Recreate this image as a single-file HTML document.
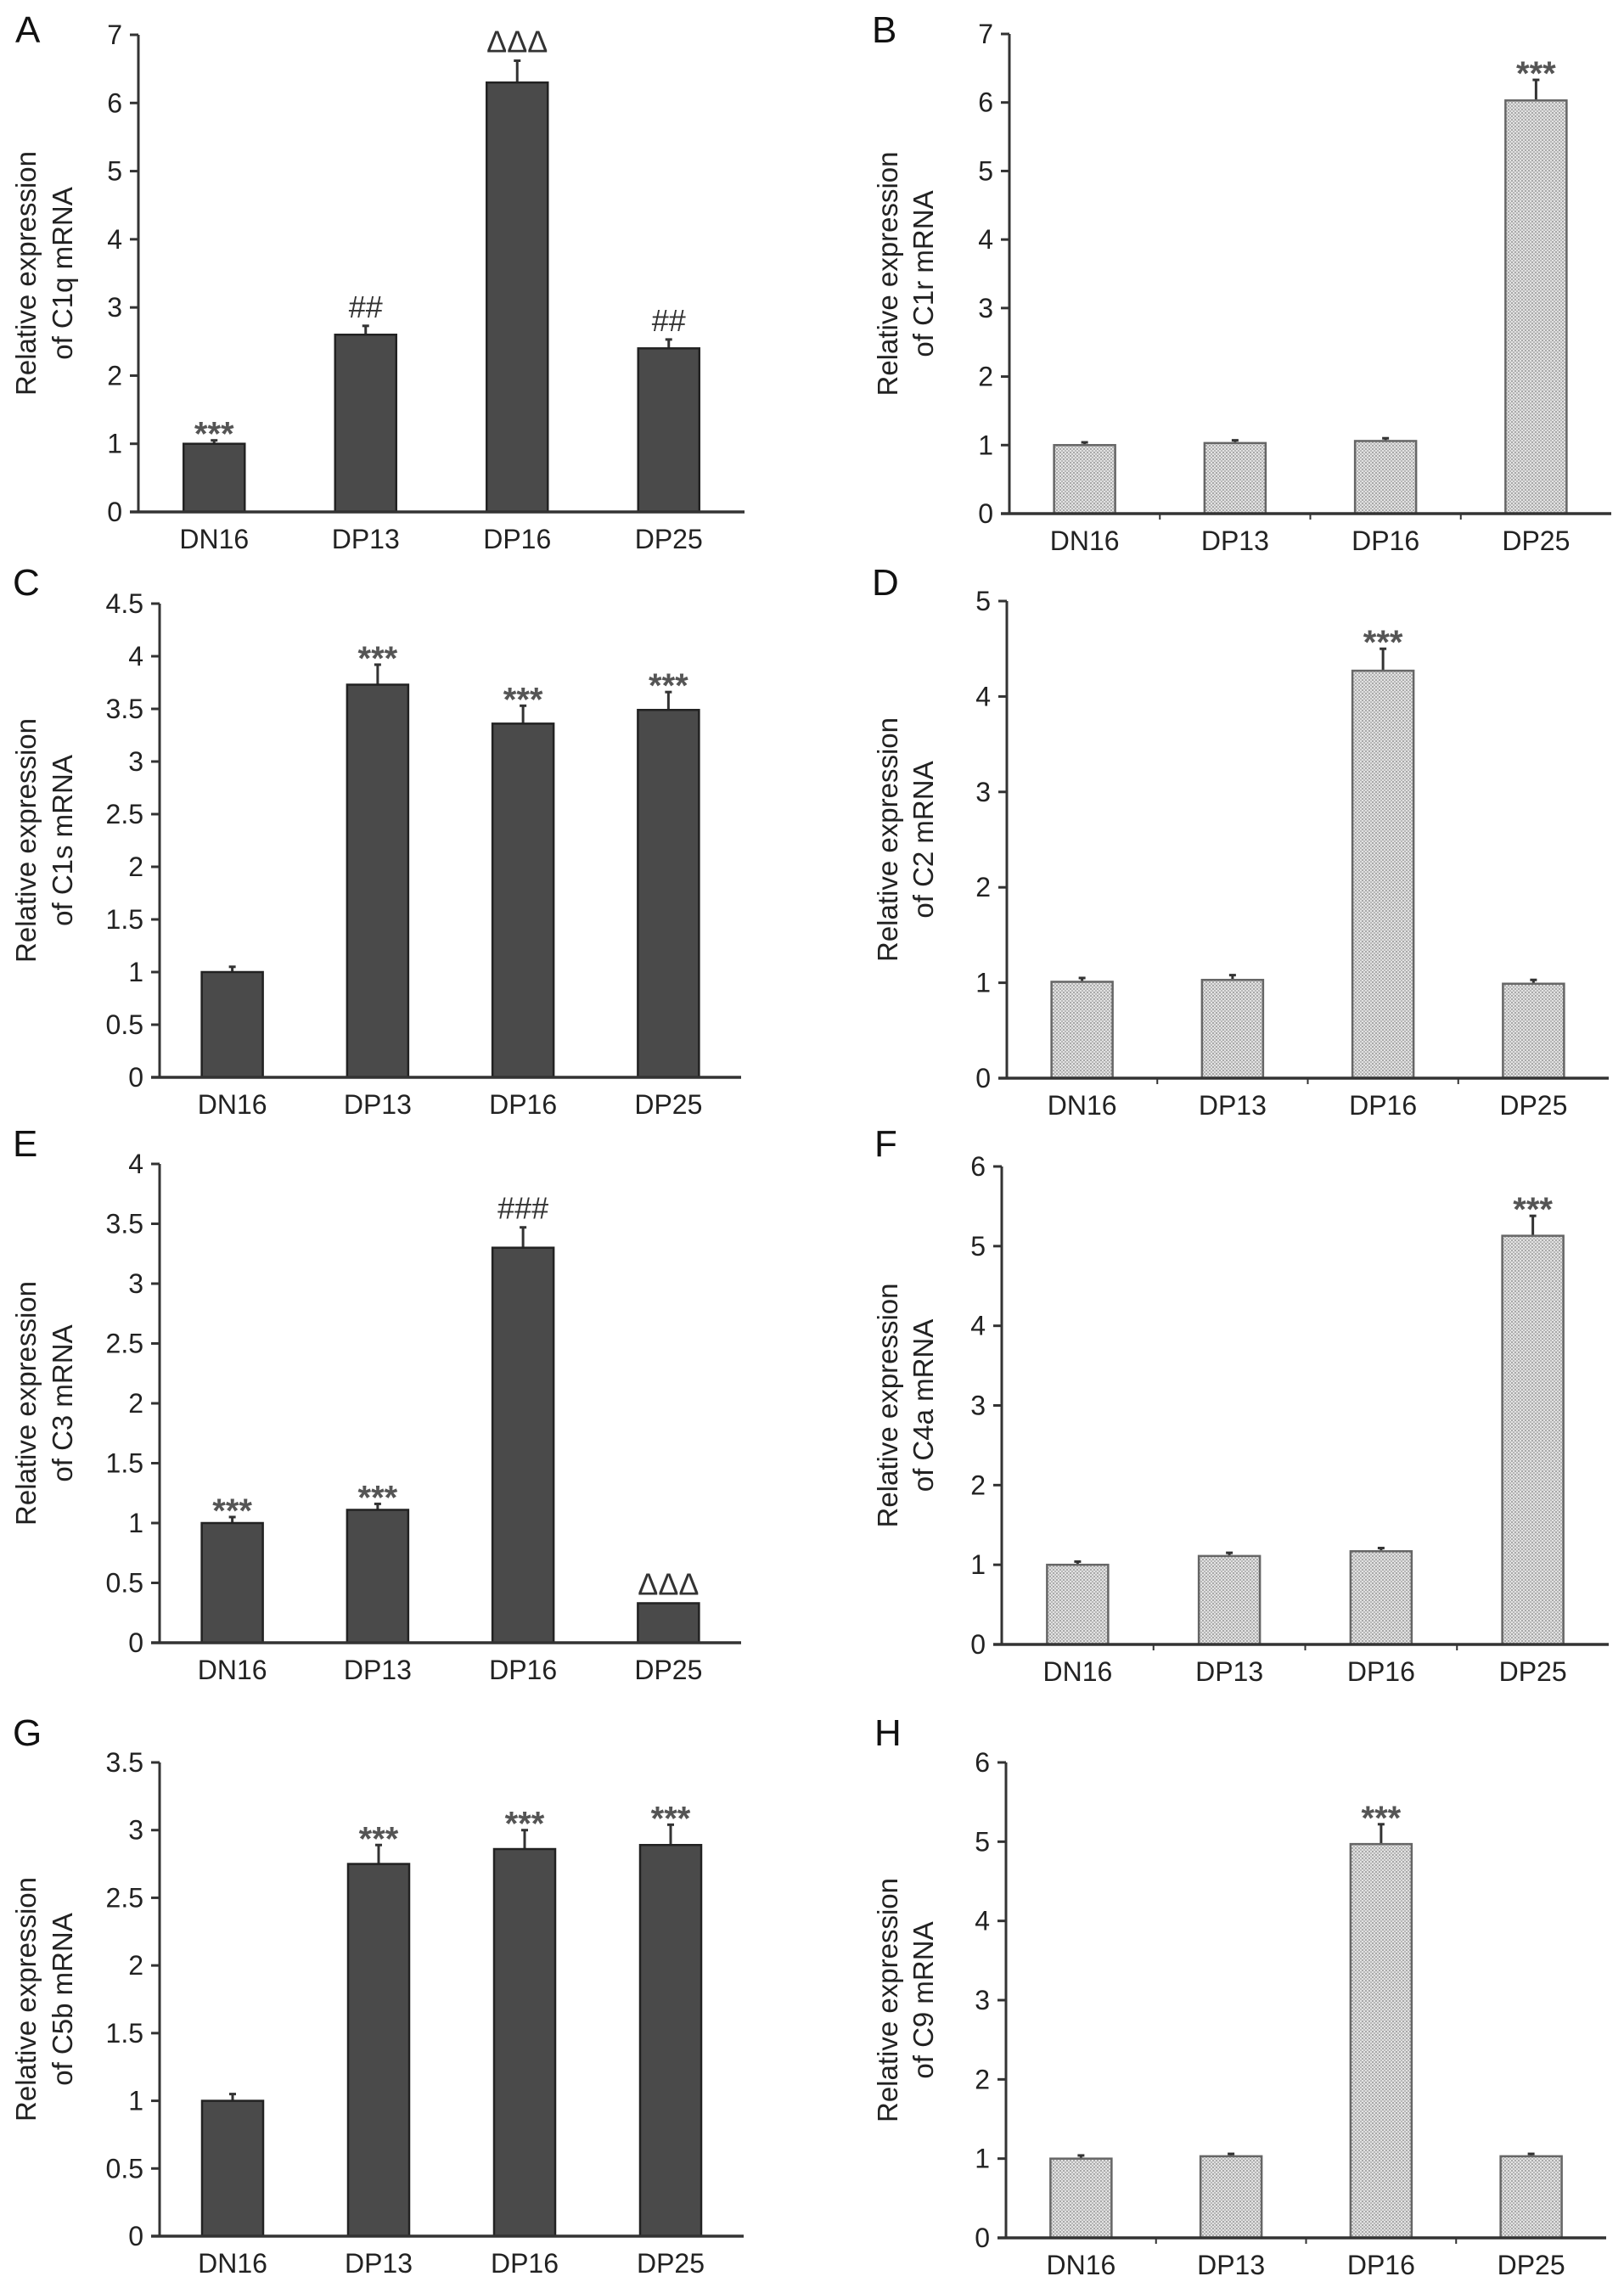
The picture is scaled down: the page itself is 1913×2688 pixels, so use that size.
<!DOCTYPE html>
<html><head><meta charset="utf-8"><style>
html,body{margin:0;padding:0;background:#fff;}
svg{display:block;font-family:"Liberation Sans",Arial,sans-serif;}
</style></head><body>
<svg id="fig" width="1913" height="2688" viewBox="0 0 1913 2688" xmlns="http://www.w3.org/2000/svg">
<defs>
<pattern id="stip" width="4" height="4" patternUnits="userSpaceOnUse">
<rect width="4" height="4" fill="#e2e2e2"/>
<rect x="0" y="0" width="2" height="2" fill="#a8a8a8"/>
<rect x="2" y="2" width="2" height="2" fill="#b8b8b8"/>
</pattern>
</defs>
</svg>
<script>
const categories = ["DN16","DP13","DP16","DP25"];
const valuesA = [1.0, 2.6, 6.3, 2.4];
const errA    = [1.05, 2.73, 6.62, 2.53];
const annA    = ["***","##","ΔΔΔ","##"];
const valuesB = [1.0, 1.03, 1.06, 6.03];
const errB    = [1.04, 1.07, 1.1, 6.33];
const annB    = ["","","","***"];
const valuesC = [1.0, 3.73, 3.36, 3.49];
const errC    = [1.05, 3.92, 3.53, 3.66];
const annC    = ["","***","***","***"];
const valuesD = [1.01, 1.03, 4.27, 0.99];
const errD    = [1.05, 1.08, 4.5, 1.03];
const annD    = ["","","***",""];
const valuesE = [1.0, 1.11, 3.3, 0.33];
const errE    = [1.05, 1.16, 3.47, 0.33];
const annE    = ["***","***","###","ΔΔΔ"];
const valuesF = [1.0, 1.11, 1.17, 5.13];
const errF    = [1.04, 1.15, 1.21, 5.38];
const annF    = ["","","","***"];
const valuesG = [1.0, 2.75, 2.86, 2.89];
const errG    = [1.05, 2.89, 3.0, 3.04];
const annG    = ["","***","***","***"];
const valuesH = [1.0, 1.03, 4.97, 1.03];
const errH    = [1.04, 1.06, 5.22, 1.06];
const annH    = ["","","***",""];
const ticksA = ["0","1","2","3","4","5","6","7"];
const ticksB = ["0","1","2","3","4","5","6","7"];
const ticksC = ["0","0.5","1","1.5","2","2.5","3","3.5","4","4.5"];
const ticksD = ["0","1","2","3","4","5"];
const ticksE = ["0","0.5","1","1.5","2","2.5","3","3.5","4"];
const ticksF = ["0","1","2","3","4","5","6"];
const ticksG = ["0","0.5","1","1.5","2","2.5","3","3.5"];
const ticksH = ["0","1","2","3","4","5","6"];

const NS = "http://www.w3.org/2000/svg";
const svg = document.getElementById("fig");
function mk(tag, attrs, parent){
  const e = document.createElementNS(NS, tag);
  for (const k in attrs) e.setAttribute(k, attrs[k]);
  (parent||svg).appendChild(e);
  return e;
}

const panels = [
 {id:"a", letter:"A", gene:"C1q", vals:valuesA, errs:errA, ann:annA, ticks:ticksA, dark:true,  ax:163, ae:877, top:41, zero:603, lx:18, ly:50, tx1:42, tx2:85},
 {id:"b", letter:"B", gene:"C1r", vals:valuesB, errs:errB, ann:annB, ticks:ticksB, dark:false, ax:1189, ae:1898, top:40, zero:605, lx:1027, ly:50, tx1:1057, tx2:1099},
 {id:"c", letter:"C", gene:"C1s", vals:valuesC, errs:errC, ann:annC, ticks:ticksC, dark:true,  ax:188, ae:873, top:711, zero:1269, lx:15, ly:701, tx1:42, tx2:85},
 {id:"d", letter:"D", gene:"C2",  vals:valuesD, errs:errD, ann:annD, ticks:ticksD, dark:false, ax:1186, ae:1895, top:708, zero:1270, lx:1027, ly:701, tx1:1057, tx2:1099},
 {id:"e", letter:"E", gene:"C3",  vals:valuesE, errs:errE, ann:annE, ticks:ticksE, dark:true,  ax:188, ae:873, top:1371, zero:1935, lx:15, ly:1362, tx1:42, tx2:85},
 {id:"f", letter:"F", gene:"C4a", vals:valuesF, errs:errF, ann:annF, ticks:ticksF, dark:false, ax:1180, ae:1895, top:1374, zero:1937, lx:1030, ly:1362, tx1:1057, tx2:1099},
 {id:"g", letter:"G", gene:"C5b", vals:valuesG, errs:errG, ann:annG, ticks:ticksG, dark:true,  ax:188, ae:876, top:2076, zero:2634, lx:15, ly:2056, tx1:42, tx2:85},
 {id:"h", letter:"H", gene:"C9",  vals:valuesH, errs:errH, ann:annH, ticks:ticksH, dark:false, ax:1185, ae:1892, top:2076, zero:2636, lx:1030, ly:2056, tx1:1057, tx2:1099}
];

panels.forEach(p => {
  const g = mk("g", {});
  
  
  const maxV = parseFloat(p.ticks[p.ticks.length-1]);
  const yS = v => p.zero - (v / maxV) * (p.zero - p.top);
  const gw = (p.ae - p.ax) / categories.length;
  const xC = i => p.ax + gw * (i + 0.5);
  const bw = 72;

  const L = mk("text", {x:p.lx, y:p.ly, "font-size":44, fill:"#111"}, g);
  L.textContent = p.letter;
  
  

  const yc = (p.top + p.zero) / 2;
  const t1 = mk("text", {x:p.tx1, y:yc, "font-size":33, fill:"#222", "text-anchor":"middle", transform:`rotate(-90 ${p.tx1} ${yc})`}, g);
  t1.textContent = "Relative expression";
  
  
  const t2 = mk("text", {x:p.tx2, y:yc, "font-size":33, fill:"#222", "text-anchor":"middle", transform:`rotate(-90 ${p.tx2} ${yc})`}, g);
  t2.textContent = "of " + p.gene + " mRNA";
  
  

  p.ticks.forEach(t => {
    const y = yS(parseFloat(t));
    const tk = mk("line", {x1:p.ax-10, x2:p.ax, y1:y, y2:y, stroke:"#333", "stroke-width":3}, g);
    
    
    const tl = mk("text", {x:p.ax-19, y:y+11, "font-size":32, fill:"#222", "text-anchor":"end"}, g);
    tl.textContent = t;
    
    
  });

  categories.forEach((c, i) => {
    const x = xC(i);
    const v = p.vals[i], e = p.errs[i];
    const yt = yS(v), ye = yS(e);
    if (e > v) {
      const eb = mk("line", {x1:x, x2:x, y1:yt, y2:ye, stroke:"#333", "stroke-width":3}, g);
      
      
      const cap = mk("line", {x1:x-4, x2:x+4, y1:ye, y2:ye, stroke:"#333", "stroke-width":3}, g);
      
      
    }
    const r = mk("rect", {x:x-bw/2, y:yt, width:bw, height:p.zero-yt,
      fill: p.dark ? "#4a4a4a" : "url(#stip)", stroke: p.dark ? "#222" : "#666", "stroke-width":2.5}, g);
    
    
    const xl = mk("text", {x:x, y:p.zero+43, "font-size":32, fill:"#222", "text-anchor":"middle"}, g);
    xl.textContent = c;
    
    
    if (i > 0 && !p.dark) {
      const bx = p.ax + gw * i;
      const xt = mk("line", {x1:bx, x2:bx, y1:p.zero, y2:p.zero+7, stroke:"#333", "stroke-width":2}, g);
      
      
    }
    const a = p.ann[i];
    if (a) {
      const top = Math.min(ye, yt);
      let an;
      if (a === "***") {
        an = mk("text", {x:x, y:top+6, "font-size":40, "font-weight":"bold", fill:"#555", "text-anchor":"middle"}, g);
      } else {
        an = mk("text", {x:x, y:top-10, "font-size":36, fill:"#333", "text-anchor":"middle"}, g);
      }
      an.textContent = a;
      
      
    }
  });

  const ya = mk("line", {x1:p.ax, x2:p.ax, y1:p.top, y2:p.zero, stroke:"#333", "stroke-width":3}, g);
  
  
  const xa = mk("line", {x1:p.ax-10, x2:p.ae, y1:p.zero, y2:p.zero, stroke:"#333", "stroke-width":3.5}, g);
  
  
});
</script>
</body></html>
